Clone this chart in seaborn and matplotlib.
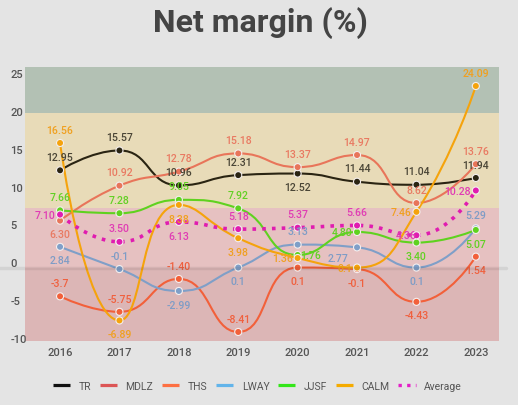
import numpy as np
import pandas as pd
import matplotlib
matplotlib.use("Agg")
import matplotlib.pyplot as plt
import matplotlib.transforms as mtransforms
from matplotlib.path import Path
from matplotlib.patches import PathPatch
from matplotlib.lines import Line2D
import seaborn as sns

years = [2016, 2017, 2018, 2019, 2020, 2021, 2022, 2023]

# values as shown on the chart labels
tr = ["12.95", "15.57", "10.96", "12.31", "12.52", "11.44", "11.04", "11.94"]
mdlz = ["6.30", "10.92", "12.78", "15.18", "13.37", "14.97", "8.62", "13.76"]
ths = ["-3.7", "-5.75", "-1.40", "-8.41", "0.1", "-0.1", "-4.43", "1.54"]
lway = ["2.84", "-0.1", "-2.99", "0.1", "3.13", "2.77", "0.1", "5.29"]
jjsf = ["7.66", "7.28", "9.05", "7.92", "1.76", "4.80", "3.40", "5.07"]
calm = ["16.56", "-6.89", "8.38", "3.98", "1.36", "0.1", "7.46", "24.09"]
average = ["7.10", "3.50", "6.13", "5.18", "5.37", "5.66", "4.36", "10.28"]

series_names = ["TR", "MDLZ", "THS", "LWAY", "JJSF", "CALM", "Average"]
series_vals = [tr, mdlz, ths, lway, jjsf, calm, average]

# colours: muted ones are what shows inside the plot, bright ones in legend
line_col = {"TR": "#2a2412", "MDLZ": "#e8755a", "THS": "#f2603a", "LWAY": "#7f9fc8",
            "JJSF": "#5fd21f", "CALM": "#f5a30c", "Average": "#e01cb0"}
text_col = {"TR": "#4a4536", "MDLZ": "#e97a62", "THS": "#f0603e", "LWAY": "#7e9cc6",
            "JJSF": "#62d024", "CALM": "#f0a020", "Average": "#e03cb4"}
legend_col = {"TR": "#111111", "MDLZ": "#dc5555", "THS": "#fd7043", "LWAY": "#62b4ea",
              "JJSF": "#33e619", "CALM": "#f5ab00", "Average": "#e41fc8"}

# label placement: a=above, b=below, l=left, r=right
place = {
    "TR": ["a", "a", "a", "a", "b", "a", "a", "a"],
    "MDLZ": ["b", "a", "a", "a", "a", "a", "a", "a"],
    "THS": ["a", "a", "a", "a", "b", "b", "b", "b"],
    "LWAY": ["b", "a", "b", "b", "a", "lb", "b", "a"],
    "JJSF": ["a", "a", "a", "a", "r", "l", "b", "b"],
    "CALM": ["a", "b", "b", "b", "l", "l", "l", "a"],
    "Average": ["l", "a", "b", "a", "a", "a", "L", "l"],
}

rows = []
for name, vals in zip(series_names, series_vals):
    for i, (yr, v) in enumerate(zip(years, vals)):
        rows.append({"idx": i, "year": yr, "series": name, "value": float(v), "label": v})
df = pd.DataFrame(rows)

sns.set_style("white")
plt.rcParams["font.family"] = ["Roboto", "DejaVu Sans"]

fig = plt.figure(figsize=(5.18, 4.06), dpi=100, facecolor="#e4e4e4")
ax = fig.add_axes([25 / 518, 61 / 406, 474 / 518, 277 / 406])
ax.set_facecolor("#e4e4e4")

ymin, ymax = -10, 26.6
band_bottom = -9.6
ax.set_xlim(-0.59, 7.39)
ax.set_ylim(ymin, ymax)

# coloured bands
ax.axhspan(20.5, ymax, color="#b3c1b4", lw=0, zorder=0)
ax.axhspan(8, 20.5, color="#e8dbb8", lw=0, zorder=0)
ax.axhspan(0, 8, color="#e6c1c1", lw=0, zorder=0)
ax.axhspan(band_bottom, 0, color="#dcb6b6", lw=0, zorder=0)

# zero line running a bit past the plot area
trans = mtransforms.blended_transform_factory(fig.transFigure, ax.transData)
fig.add_artist(Line2D([0, 506 / 518], [0, 0], transform=trans, color="black",
                      alpha=0.07, lw=2.5, zorder=1))

sx, sy = 59.5, 7.57  # px per unit, used for curve smoothing


def smooth_path(xs, ys, k=0.5):
    P = np.column_stack([np.asarray(xs, float) * sx, np.asarray(ys, float) * sy])
    n = len(P)
    cin = [None] * n
    cout = [None] * n
    cout[0] = P[0]
    cin[-1] = P[-1]
    for i in range(1, n - 1):
        prv, cur, nxt = P[i - 1], P[i], P[i + 1]
        v = nxt - prv
        l0 = np.hypot(*(cur - prv))
        l1 = np.hypot(*(nxt - cur))
        r = l1 / (l0 + l1)
        c1 = cur + v * k * r
        c1 = np.clip(c1, np.minimum(nxt, cur), np.maximum(nxt, cur))
        c0 = cur - (c1 - cur) * l0 / l1
        c0 = np.clip(c0, np.minimum(prv, cur), np.maximum(prv, cur))
        c1 = cur + (cur - c0) * l1 / l0
        cin[i] = c0
        cout[i] = c1
    verts = [P[0]]
    codes = [Path.MOVETO]
    for i in range(n - 1):
        verts += [cout[i], cin[i + 1], P[i + 1]]
        codes += [Path.CURVE4] * 3
    verts = np.array(verts) / [sx, sy]
    return Path(verts, codes)


for name in series_names:
    d = df[df["series"] == name]
    path = smooth_path(d["idx"], d["value"])
    if name == "Average":
        patch = PathPatch(path, fill=False, ec=line_col[name], lw=2.6,
                          linestyle=(0, (1, 1.7)), capstyle="butt", zorder=3)
    else:
        patch = PathPatch(path, fill=False, ec=line_col[name], lw=1.5, zorder=3)
    ax.add_patch(patch)

sns.scatterplot(data=df, x="idx", y="value", hue="series", palette=line_col,
                s=26, edgecolor="#f4eeee", linewidth=0.8, zorder=4, ax=ax, legend=False)

# value labels
offs = {"a": ((0, 9.6), "center"), "b": ((0, -9.8), "center"),
        "l": ((-3.5, 0), "right"), "L": ((0, 0), "right"),
        "r": ((1.5, 0), "left"), "lb": ((-6.5, -8), "right")}
for name in series_names:
    d = df[df["series"] == name]
    for (_, row), p in zip(d.iterrows(), place[name]):
        xy, ha = offs[p]
        ax.annotate(row["label"], (row["idx"], row["value"]), xytext=xy,
                    textcoords="offset points", ha=ha, va="center",
                    fontsize=7.6, fontweight="medium", color=text_col[name], zorder=5)

ax.set_xticks(range(len(years)))
ax.set_xticklabels([str(y) for y in years], fontsize=8, fontweight="medium", color="#555555")
ax.set_yticks([-10, -5, 0, 5, 10, 15, 20, 25])
ax.set_yticklabels(["-10", "-5", "0", "5", "10", "15", "20", "25"],
                   fontsize=8, fontweight="medium", color="#555555")
ax.set_ylim(ymin, ymax)
for lab in ax.get_yticklabels():
    lab.set_ha("left")
    lab.set_va("bottom")
ax.tick_params(axis="y", length=0, pad=10.6)
ax.tick_params(axis="x", length=0, pad=2.4)
for sp in ax.spines.values():
    sp.set_visible(False)
ax.set_xlabel("")
ax.set_ylabel("")

fig.text(0.503, 1 - 23 / 406, "Net margin (%)", ha="center", va="center",
         fontsize=23, fontweight="bold", color="#444444")

handles = []
for name in series_names:
    if name == "Average":
        handles.append(Line2D([], [], color=legend_col[name], lw=2.4, linestyle=(0, (1, 1.6)),
                              dash_capstyle="butt"))
    else:
        handles.append(Line2D([], [], color=legend_col[name], lw=2.3, solid_capstyle="butt"))
fig.legend(handles, series_names, loc="center", bbox_to_anchor=(0.497, 19 / 406),
           ncol=7, frameon=False, fontsize=7.5, handlelength=1.65, handletextpad=0.8,
           columnspacing=0.85, labelcolor="#555555")

fig.savefig("out.png", dpi=100, facecolor=fig.get_facecolor())
